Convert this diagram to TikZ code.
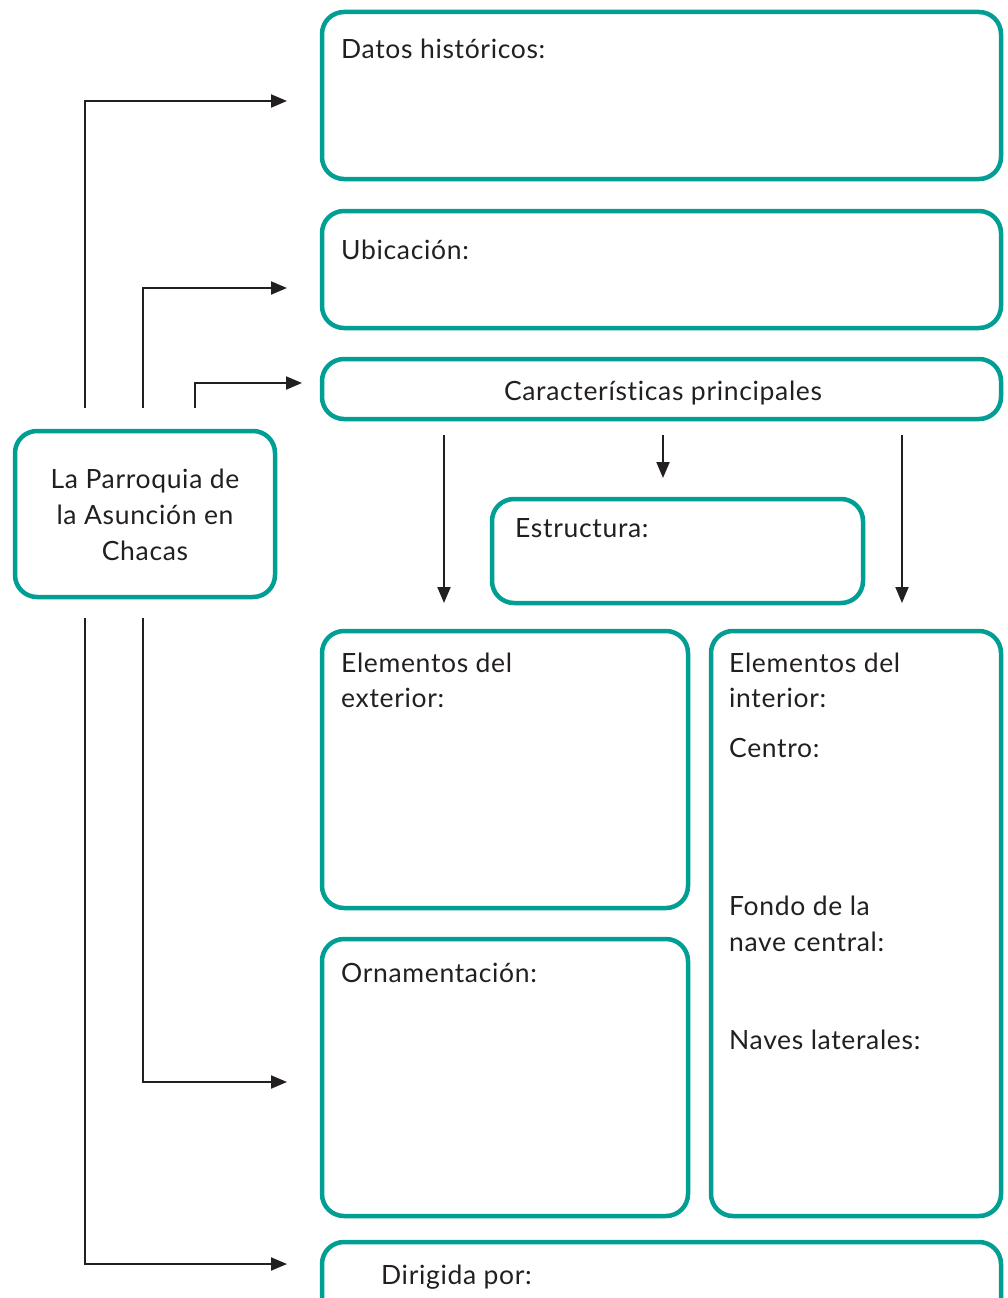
\documentclass[tikz,border=0pt]{standalone}
\usepackage{fontspec}
\setmainfont{Lato}[LetterSpace=2.5, Ligatures={NoCommon}]
\usetikzlibrary{arrows.meta}
\definecolor{teal1}{HTML}{009E93}
\definecolor{ink}{HTML}{231F20}
\tikzset{
  conn/.style={draw=ink, line width=2pt, -{Triangle[length=16pt,width=13pt]}},
  lbl/.style={anchor=base west, inner sep=0pt, text=ink, font=\fontsize{26.5}{36}\selectfont},
  bn/.style={draw=teal1, line width=4.5pt, rounded corners=22pt, anchor=north west, inner sep=0pt, outer sep=0pt},
}
\begin{document}
\begin{tikzpicture}[x=1pt,y=-1pt]
\useasboundingbox (0,0) rectangle (1008,1298);
\clip (0,0) rectangle (1008,1298);
% boxes
\node[bn, minimum width=679pt, minimum height=167pt] (datos) at (322,12) {};
\node[bn, minimum width=679pt, minimum height=117pt] (ubic) at (322,211) {};
\node[bn, minimum width=679pt, minimum height=60pt] (carac) at (322,359) {};
\node[bn, minimum width=371pt, minimum height=104pt] (estr) at (492,499) {};
\node[bn, minimum width=366pt, minimum height=277pt] (ext) at (322,631) {};
\node[bn, minimum width=366pt, minimum height=277pt] (orn) at (322,939) {};
\node[bn, minimum width=290pt, minimum height=585pt] (int) at (711,631) {};
\node[bn, minimum width=679pt, minimum height=100pt] (dir) at (322,1242) {};
\node[bn, minimum width=260pt, minimum height=166pt] (parr) at (15,431) {};
% labels
\node[lbl] (t1) at (341,59) {Datos históricos:};
\node[lbl] (t2) at (341,259) {Ubicación:};
\node[lbl, anchor=base] (t3) at (663,400) {Características principales};
\node[lbl] (t4) at (515,537) {Estructura:};
\node[lbl] (t5) at (341,672) {Elementos del};
\node[lbl] (t6) at (341,707) {exterior:};
\node[lbl] (t7) at (341,982) {Ornamentación:};
\node[lbl] (t8) at (729,672) {Elementos del};
\node[lbl] (t9) at (729,707) {interior:};
\node[lbl] (t10) at (729,757) {Centro:};
\node[lbl] (t11) at (729,915) {Fondo de la};
\node[lbl] (t12) at (729,951) {nave central:};
\node[lbl] (t13) at (729,1049) {Naves laterales:};
\node[lbl] (t14) at (381,1284) {Dirigida por:};
\node[lbl, anchor=base] (p1) at (145,488) {La Parroquia de};
\node[lbl, anchor=base] (p2) at (145,524) {la Asunción en};
\node[lbl, anchor=base] (p3) at (145,560) {Chacas};
% connector endpoints
\coordinate (a1s) at (85,408);  \coordinate (a1e) at (287,101);
\coordinate (a2s) at (143,408); \coordinate (a2e) at (287,288);
\coordinate (a3s) at (195,408); \coordinate (a3e) at (302,383);
\coordinate (b1s) at (85,618);  \coordinate (b1e) at (287,1264);
\coordinate (b2s) at (143,618); \coordinate (b2e) at (287,1082);
\coordinate (d1s) at (444,435); \coordinate (d1e) at (444,603);
\coordinate (d2s) at (663,435); \coordinate (d2e) at (663,478);
\coordinate (d3s) at (902,435); \coordinate (d3e) at (902,603);
\draw[conn] (a1s) |- (a1e);
\draw[conn] (a2s) |- (a2e);
\draw[conn] (a3s) |- (a3e);
\draw[conn] (b1s) |- (b1e);
\draw[conn] (b2s) |- (b2e);
\draw[conn] (d1s) -- (d1e);
\draw[conn] (d2s) -- (d2e);
\draw[conn] (d3s) -- (d3e);
\end{tikzpicture}
\end{document}
